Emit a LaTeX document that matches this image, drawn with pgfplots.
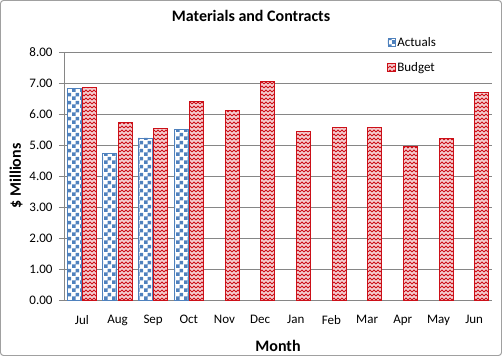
\documentclass[border=0pt]{standalone}
\usepackage{pgfplots}
\pgfplotsset{compat=1.18}
\usepackage{fontspec}
\setmainfont{Carlito}
\usetikzlibrary{patterns.meta}
\definecolor{actblue}{RGB}{79,129,189}
\definecolor{budred}{RGB}{204,16,24}
\definecolor{gridgray}{RGB}{134,134,134}
\definecolor{framegray}{RGB}{160,160,160}
\pgfdeclarepattern{name=checks, type=uncolored,
  bottom left={\pgfpoint{0bp}{0bp}}, top right={\pgfpoint{8bp}{8bp}},
  tile size={\pgfpoint{8bp}{8bp}},
  code={\pgfpathrectangle{\pgfpoint{0bp}{0bp}}{\pgfpoint{4bp}{4bp}}%
        \pgfpathrectangle{\pgfpoint{4bp}{4bp}}{\pgfpoint{4bp}{4bp}}%
        \pgfusepath{fill}}}
\pgfdeclarepattern{name=zigzag, type=uncolored,
  bottom left={\pgfpoint{-1bp}{-1bp}}, top right={\pgfpoint{5bp}{5bp}},
  tile size={\pgfpoint{4bp}{4bp}},
  code={\pgfsetlinewidth{0.9bp}%
        \pgfpathmoveto{\pgfpoint{0bp}{0bp}}\pgfpathlineto{\pgfpoint{2bp}{2bp}}\pgfpathlineto{\pgfpoint{4bp}{0bp}}%
        \pgfusepath{stroke}}}
\begin{document}
\begin{tikzpicture}
\begin{axis}[
  at={(0,0)}, anchor=south west,
  scale only axis, width=428bp, height=248bp,
  ybar=1.5bp, bar width=14bp,
  xmin=-0.5, xmax=11.5, ymin=0, ymax=8,
  xtick={0,...,11},
  xticklabels={Jul,Aug,Sep,Oct,Nov,Dec,Jan,Feb,Mar,Apr,May,Jun},
  major x tick style={draw=none},
  extra x ticks={-0.5,0.5,...,11.5},
  extra x tick labels={},
  extra x tick style={major tick length=5bp, tick style={draw=gridgray, line width=0.8bp}, tick align=outside, grid=none},
  ytick={0,1,...,8},
  yticklabel style={/pgf/number format/fixed, /pgf/number format/fixed zerofill, /pgf/number format/precision=2},
  /pgf/number format/assume math mode=true,
  ymajorgrids, grid style={gridgray, line width=0.8bp},
  axis x line=bottom, axis y line=left,
  axis line style={gridgray, line width=0.8bp, -},
  ytick style={draw=gridgray, line width=0.8bp},
  ytick align=outside, 
  tick label style={font=\fontsize{13bp}{15bp}\selectfont},
  xticklabel style={yshift=-9bp},
  yticklabel style={xshift=-3bp},
  xlabel={\textbf{Month}}, ylabel={\textbf{\$ Millions}},
  label style={font=\fontsize{16bp}{18bp}\selectfont},
  xlabel style={yshift=0bp},
  ylabel style={yshift=0bp},
  major tick length=5bp,
  legend style={at={(0.755,1.067)}, anchor=north west, draw=none, fill=none,
    font=\fontsize{13bp}{15bp}\selectfont, row sep=12bp, inner sep=0pt,
    nodes={inner sep=1.5bp}},
  legend cell align=left,
  legend image code/.code={\draw[#1] (0bp,-3.5bp) rectangle (7.5bp,4bp);},
]
\addplot[draw=actblue, line width=0.6bp, fill=white, postaction={pattern=checks, pattern color=actblue}]
  coordinates {(0,6.82) (1,4.73) (2,5.23) (3,5.50)};
\addplot[draw=budred, line width=1bp, fill=budred!20, postaction={pattern=zigzag, pattern color=budred}]
  coordinates {(0,6.86) (1,5.73) (2,5.52) (3,6.39) (4,6.12) (5,7.06) (6,5.42) (7,5.56) (8,5.56) (9,4.95) (10,5.20) (11,6.68)};
\legend{Actuals,Budget}
\end{axis}
\node[font=\bfseries\fontsize{16bp}{18bp}\selectfont] at (187bp,284bp) {Materials and Contracts};
\draw[framegray, line width=1bp, rounded corners=3bp] (-63.5bp,-55.5bp) rectangle (437.5bp,299.5bp);
\pgfresetboundingbox
\path (-64bp,-56bp) rectangle (438bp,300bp);
\end{tikzpicture}
\end{document}
